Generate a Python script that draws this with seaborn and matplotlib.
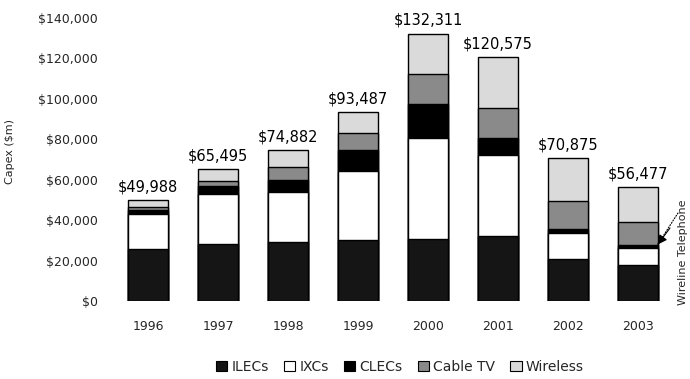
import matplotlib
matplotlib.use("Agg")
import matplotlib.pyplot as plt
from matplotlib.patches import Patch
from matplotlib.ticker import FuncFormatter
import numpy as np
import seaborn as sns

# Telecom capital expenditure by carrier segment, $ millions
years = ["1996", "1997", "1998", "1999", "2000", "2001", "2002", "2003"]
ilecs = [25800, 28000, 29200, 30400, 30800, 32000, 21000, 17700]
ixcs = [17000, 25000, 24900, 33700, 49600, 40000, 12600, 8700]
clecs = [2200, 4000, 5900, 10700, 17000, 8500, 2100, 1500]
cable_tv = [1300, 2500, 6500, 8200, 14700, 15000, 13600, 11100]
wireless = [3688, 5995, 8382, 10487, 20211, 25075, 21575, 17477]

segment_names = ["ILECs", "IXCs", "CLECs", "Cable TV", "Wireless"]
segment_values = [ilecs, ixcs, clecs, cable_tv, wireless]
segment_colors = ["#151515", "#ffffff", "#000000", "#8a8a8a", "#dadada"]

sns.set_style("white")
plt.rcParams["font.family"] = ["DejaVu Sans"]

fig = plt.figure(figsize=(6.9, 3.79), dpi=100)
ax = fig.add_axes([113 / 690, 78 / 379, 560 / 690, 283 / 379])

# Stack by overlaying cumulative totals, tallest first
cumulative = np.cumsum(np.array(segment_values), axis=0)
for k in range(len(segment_names) - 1, -1, -1):
    sns.barplot(x=years, y=cumulative[k], order=years, color=segment_colors[k],
                saturation=1, width=0.56, edgecolor="black", linewidth=1,
                errorbar=None, ax=ax)

totals = cumulative[-1]
for i, t in enumerate(totals):
    ax.annotate(f"${t:,.0f}", xy=(i, t), xytext=(0, 4), textcoords="offset points",
                ha="center", va="bottom", fontsize=10.5, color="black")

ax.set_xlim(-0.5, 7.5)
ax.set_ylim(0, 140000)
ax.set_yticks(np.arange(0, 140001, 20000))
ax.yaxis.set_major_formatter(FuncFormatter(lambda v, p: f"${v:,.0f}"))
ax.tick_params(axis="y", length=0, pad=11, labelsize=9)
ax.tick_params(axis="x", length=0, pad=14, labelsize=9)
ax.set_xlabel("")
ax.set_ylabel("Capex ($m)", fontsize=8)
ax.yaxis.set_label_coords(-0.175, 0.53)
for s in ax.spines.values():
    s.set_visible(False)

# Pointer to the thin wireline segment of the last bar
tip = (7 + 0.28, ilecs[-1] + ixcs[-1] + clecs[-1])
ax.annotate("", xy=tip, xycoords="data", xytext=(678, 166), textcoords="figure pixels",
            arrowprops=dict(arrowstyle="-", linestyle=(0, (1, 1.5)), lw=0.8, color="black",
                            shrinkA=0, shrinkB=0))
ax.annotate("", xy=tip, xycoords="data", xytext=(670, 151), textcoords="figure pixels",
            arrowprops=dict(arrowstyle="-|>", lw=0.8, color="black", mutation_scale=14,
                            shrinkA=0, shrinkB=0))
fig.text(683 / 690, 1 - 252 / 379, "Wireline Telephone", rotation=90,
         ha="center", va="center", fontsize=8)

handles = [Patch(facecolor=c, edgecolor="black", linewidth=0.8) for c in segment_colors]
fig.legend(handles, segment_names, loc="center", bbox_to_anchor=(400 / 690, 1 - 367 / 379),
           ncol=5, frameon=False, fontsize=10, handlelength=0.8, handleheight=0.8,
           handletextpad=0.3, columnspacing=1.1, borderpad=0)

fig.savefig("out.png", dpi=100)
